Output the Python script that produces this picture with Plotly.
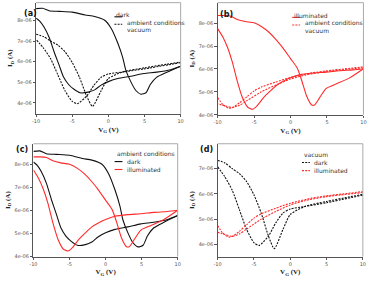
import plotly.graph_objects as go

# ---------------- data ----------------
# dark, ambient conditions (black solid)
amb_dark_fwd_v = [-10, -9.1, -8.2, -6.8, -5.0, -3.2, -1.9, -0.5, 0.4, 1.3, 2.0, 2.4, 3.1, 3.8, 4.5, 5.2, 5.8, 6.7, 8.1, 10]
amb_dark_fwd_i = [8.57, 8.59, 8.47, 8.44, 8.40, 8.26, 8.19, 8.01, 7.61, 6.90, 6.18, 5.60, 5.03, 4.60, 4.42, 4.49, 4.89, 5.25, 5.49, 5.78]
amb_dark_bwd_v = [10, 8.6, 6.7, 4.9, 3.1, 1.3, 0, -1.0, -1.9, -2.8, -3.9, -4.8, -5.5, -6.2, -6.8, -7.5, -8.2, -8.9, -9.5, -10]
amb_dark_bwd_i = [5.78, 5.61, 5.49, 5.42, 5.29, 5.18, 5.03, 4.86, 4.63, 4.52, 4.49, 4.67, 4.89, 5.25, 5.82, 6.47, 7.18, 7.68, 7.97, 8.11]

# illuminated, ambient conditions (red solid)
amb_ill_fwd_v = [-10, -9.1, -8.2, -7.3, -6.2, -5.0, -3.9, -3.0, -1.9, -1.0, 0, 0.9, 1.5, 2.2, 2.9, 3.3, 4.0, 4.9, 6.3, 8.1, 10]
amb_ill_fwd_i = [8.33, 8.33, 8.30, 8.16, 8.07, 8.01, 7.83, 7.61, 7.25, 6.90, 6.45, 6.05, 5.53, 4.82, 4.43, 4.43, 4.75, 5.15, 5.35, 5.61, 6.01]
amb_ill_bwd_v = [10, 8.6, 6.7, 4.9, 3.1, 1.3, 0, -1.0, -1.9, -2.8, -3.7, -4.6, -5.2, -5.9, -6.6, -7.3, -8.0, -8.6, -9.3, -10]
amb_ill_bwd_i = [6.01, 5.96, 5.92, 5.86, 5.82, 5.75, 5.61, 5.46, 5.29, 5.03, 4.75, 4.39, 4.24, 4.34, 4.75, 5.46, 6.32, 6.90, 7.40, 7.76]

# dark, vacuum (black dotted)
vac_dark_a_v = [-10, -9, -8, -7, -6, -5, -4, -3, -2.2, -1, 0, 2, 5, 8, 10]
vac_dark_a_i = [7.33, 7.22, 7.00, 6.80, 6.48, 5.96, 5.24, 4.33, 3.83, 4.59, 5.18, 5.50, 5.70, 5.87, 5.98]
vac_dark_b_v = [10, 5, 2, 0, -1, -2, -3, -4.3, -5, -6, -7, -8, -9, -10]
vac_dark_b_i = [5.95, 5.65, 5.50, 5.40, 5.24, 4.85, 4.33, 3.96, 4.07, 4.59, 5.37, 6.15, 6.67, 7.07]

# illuminated, vacuum (red dotted)
vac_ill_a_v = [-10, -9.3, -8.5, -8, -7, -6, -5, -4, -2, 0, 3, 5, 8, 10]
vac_ill_a_i = [4.75, 4.45, 4.29, 4.31, 4.52, 4.78, 5.04, 5.21, 5.43, 5.63, 5.83, 5.92, 6.02, 6.09]
vac_ill_b_v = [10, 5, 2, 0, -2, -4, -6, -7, -8, -9, -10]
vac_ill_b_i = [6.05, 5.89, 5.73, 5.56, 5.30, 5.00, 4.61, 4.41, 4.32, 4.39, 4.48]

x_ticks = [-10, -5, 0, 5, 10]
x_tick_labels = ["-10", "-5", "0", "5", "10"]
y_ticks = [4, 5, 6, 7, 8]
y_tick_labels = ["4e-06", "5e-06", "6e-06", "7e-06", "8e-06"]

panel_labels = ["(a)", "(b)", "(c)", "(d)"]
x_title = "V<sub>G</sub> (V)"
y_title = "I<sub>D</sub> (A)"

# ---------------- styles ----------------
BLACK = "#111111"
RED = "#ff2a2a"
DOT = "2px,1.2px"
W, H = 374, 284

def scale(vals):
    return [v * 1e-6 for v in vals]

fig = go.Figure()

def add_curve(v, i, color, dash, ax):
    fig.add_trace(go.Scatter(
        x=v, y=scale(i), mode="lines",
        line=dict(color=color, width=1.1, dash=dash, shape="spline", smoothing=0.6),
        xaxis="x" + ax, yaxis="y" + ax, showlegend=False, hoverinfo="skip"))

# (a) dark: ambient vs vacuum
add_curve(amb_dark_fwd_v, amb_dark_fwd_i, BLACK, "solid", "")
add_curve(amb_dark_bwd_v, amb_dark_bwd_i, BLACK, "solid", "")
add_curve(vac_dark_a_v, vac_dark_a_i, BLACK, DOT, "")
add_curve(vac_dark_b_v, vac_dark_b_i, BLACK, DOT, "")
# (b) illuminated: ambient vs vacuum
add_curve(amb_ill_fwd_v, amb_ill_fwd_i, RED, "solid", "2")
add_curve(amb_ill_bwd_v, amb_ill_bwd_i, RED, "solid", "2")
add_curve(vac_ill_a_v, vac_ill_a_i, RED, DOT, "2")
add_curve(vac_ill_b_v, vac_ill_b_i, RED, DOT, "2")
# (c) ambient: dark vs illuminated
add_curve(amb_dark_fwd_v, amb_dark_fwd_i, BLACK, "solid", "3")
add_curve(amb_dark_bwd_v, amb_dark_bwd_i, BLACK, "solid", "3")
add_curve(amb_ill_fwd_v, amb_ill_fwd_i, RED, "solid", "3")
add_curve(amb_ill_bwd_v, amb_ill_bwd_i, RED, "solid", "3")
# (d) vacuum: dark vs illuminated
add_curve(vac_dark_a_v, vac_dark_a_i, BLACK, DOT, "4")
add_curve(vac_dark_b_v, vac_dark_b_i, BLACK, DOT, "4")
add_curve(vac_ill_a_v, vac_ill_a_i, RED, DOT, "4")
add_curve(vac_ill_b_v, vac_ill_b_i, RED, DOT, "4")

# panel geometry in pixels: (left, right, top, bottom), y-range
panels = [
    ((32.7, 180.0, 2.7, 115.0), (3.47, 8.86)),
    ((217.7, 366.3, 2.7, 116.0), (4.0, 8.89)),
    ((30.0, 177.0, 145.3, 259.3), (4.0, 8.90)),
    ((217.7, 365.7, 145.3, 259.3), (3.52, 7.98)),
]

tickfont = dict(family="DejaVu Sans", size=5, color="#555555")
titlefont = dict(family="Liberation Serif", size=7, color="#222222", weight="bold")
layout = dict(width=W, height=H, margin=dict(l=0, r=0, t=0, b=0),
              paper_bgcolor="white", plot_bgcolor="white", showlegend=False)
shapes = []
annotations = []

for k, ((l, r, t, b), (y0, y1)) in enumerate(panels):
    sfx = "" if k == 0 else str(k + 1)
    layout["xaxis" + sfx] = dict(
        domain=[l / W, r / W], range=[-10, 10], anchor="y" + sfx,
        tickvals=x_ticks, ticktext=x_tick_labels, ticks="outside", ticklen=2.5,
        tickwidth=0.8, tickcolor="#555555", showline=True, linecolor="#555555",
        linewidth=1, showgrid=False, zeroline=False, tickfont=tickfont,
        title=dict(text=x_title, font=titlefont, standoff=3))
    layout["yaxis" + sfx] = dict(
        domain=[1 - b / H, 1 - t / H], range=[y0 * 1e-6, y1 * 1e-6], anchor="x" + sfx,
        tickvals=scale(y_ticks), ticktext=y_tick_labels, ticks="outside", ticklen=2.5,
        tickwidth=0.8, tickcolor="#555555", showline=True, linecolor="#555555",
        linewidth=1, showgrid=False, zeroline=False, tickfont=tickfont,
        title=dict(text=y_title, font=titlefont, standoff=3))
    # light top / right frame
    xr, yr = "x" + sfx + " domain", "y" + sfx + " domain"
    shapes.append(dict(type="line", xref=xr, yref=yr, x0=0, x1=1, y0=1, y1=1,
                       line=dict(color="#aaaaaa", width=1)))
    shapes.append(dict(type="line", xref=xr, yref=yr, x0=1, x1=1, y0=0, y1=1,
                       line=dict(color="#aaaaaa", width=1)))

# panel letters
letter_pos = [(18.5, 7), (226.5, 8.5), (10, 151), (206.5, 151)]
for lab, (px, py) in zip(panel_labels, letter_pos):
    annotations.append(dict(text=lab, xref="paper", yref="paper",
                            x=px / W, y=1 - py / H, showarrow=False,
                            font=dict(family="DejaVu Sans", size=8, color="#111111", weight="bold")))

# manual legends: (title, [(label, color, dash)], x_line_start, y_title, spacing)
legends = [
    ("dark", [("ambient conditions", BLACK, "solid"), ("vacuum", BLACK, DOT)], 112.5, 9.5, 7.5),
    ("illuminated", [("ambient conditions", RED, "solid"), ("vacuum", RED, DOT)], 293.7, 10, 7.6),
    ("ambient conditions", [("dark", BLACK, "solid"), ("illuminated", RED, "solid")], 112.7, 155.3, 8),
    ("vacuum", [("dark", BLACK, DOT), ("illuminated", RED, DOT)], 303.7, 156, 8.2),
]
lfont = dict(family="DejaVu Sans", size=6, color="#333333")
for title, items, lx, ty, sp in legends:
    annotations.append(dict(text=title, xref="paper", yref="paper", x=lx / W, y=1 - ty / H,
                            xanchor="left", showarrow=False, font=lfont))
    for j, (lab, col, dsh) in enumerate(items):
        yy = ty + sp * (j + 1)
        shapes.append(dict(type="line", xref="paper", yref="paper",
                           x0=lx / W, x1=(lx + 8) / W, y0=1 - yy / H, y1=1 - yy / H,
                           line=dict(color=col, width=1.1, dash=dsh)))
        annotations.append(dict(text=lab, xref="paper", yref="paper", x=(lx + 10.5) / W,
                                y=1 - yy / H, xanchor="left", showarrow=False, font=lfont))

layout["shapes"] = shapes
layout["annotations"] = annotations
fig.update_layout(**layout)
fig.write_html("out.html", config={"displayModeBar": False},
               post_script="document.body.style.margin='0px';")
